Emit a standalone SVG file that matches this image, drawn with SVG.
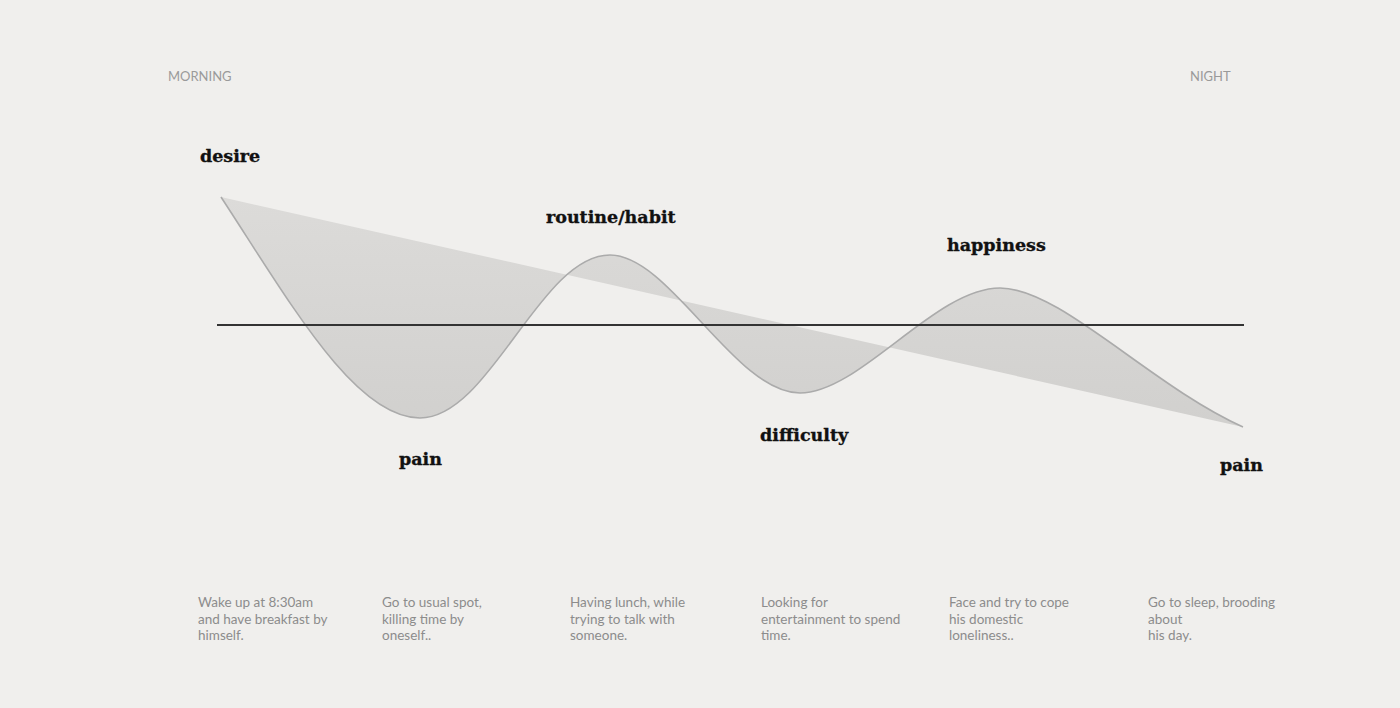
<svg xmlns="http://www.w3.org/2000/svg" width="1400" height="708" viewBox="0 0 1400 708">
  <defs>
    <linearGradient id="g" x1="0" y1="0" x2="0" y2="1">
      <stop offset="0" stop-color="#dcdbd9"/>
      <stop offset="1" stop-color="#d1d0ce"/>
    </linearGradient>
  </defs>
  <style>
    .time { font-family: Lato, "Open Sans", sans-serif; font-size: 13px; fill: #9a9a9a; }
    .lbl { font-family: "DejaVu Serif", "Liberation Serif", serif; font-weight: bold; font-size: 17.5px; fill: #111; stroke: #111; stroke-width: 0.35; }
    .desc { font-family: Lato, "Open Sans", sans-serif; font-size: 13.5px; fill: #8c8c8c; }
  </style>
  <rect width="1400" height="708" fill="#f0efed"/>
  <g id="timeline">
    <text class="time" x="168" y="81">MORNING</text>
    <text class="time" x="1190" y="81">NIGHT</text>
  </g>
  <g id="chart">
    <path d="M221,197 C291,304 355,418 420,418 C490,418 540,255 610,255 C670,255 735,393 800,393 C860,393 935,288 1000,288 C1060,288 1150,385 1243,427 Z" fill="url(#g)" stroke="none"/>
    <path d="M221,197 C291,304 355,418 420,418 C490,418 540,255 610,255 C670,255 735,393 800,393 C860,393 935,288 1000,288 C1060,288 1150,385 1243,427" fill="none" stroke="#ababab" stroke-width="1.6"/>
    <line x1="217" y1="325" x2="1244" y2="325" stroke="#333" stroke-width="2"/>
  </g>
  <g id="labels">
    <text class="lbl" x="200" y="162">desire</text>
    <text class="lbl" x="546" y="223">routine/habit</text>
    <text class="lbl" x="399" y="465">pain</text>
    <text class="lbl" x="760" y="441">difficulty</text>
    <text class="lbl" x="947" y="251">happiness</text>
    <text class="lbl" x="1220" y="471">pain</text>
  </g>
  <g id="descriptions">
    <text class="desc" x="198" y="607">Wake up at 8:30am<tspan x="198" y="623.5">and have breakfast by</tspan><tspan x="198" y="640">himself.</tspan></text>
    <text class="desc" x="382" y="607">Go to usual spot,<tspan x="382" y="623.5">killing time by</tspan><tspan x="382" y="640">oneself..</tspan></text>
    <text class="desc" x="570" y="607">Having lunch, while<tspan x="570" y="623.5">trying to talk with</tspan><tspan x="570" y="640">someone.</tspan></text>
    <text class="desc" x="761" y="607">Looking for<tspan x="761" y="623.5">entertainment to spend</tspan><tspan x="761" y="640">time.</tspan></text>
    <text class="desc" x="949" y="607">Face and try to cope<tspan x="949" y="623.5">his domestic</tspan><tspan x="949" y="640">loneliness..</tspan></text>
    <text class="desc" x="1148" y="607">Go to sleep, brooding<tspan x="1148" y="623.5">about</tspan><tspan x="1148" y="640">his day.</tspan></text>
  </g>
</svg>
